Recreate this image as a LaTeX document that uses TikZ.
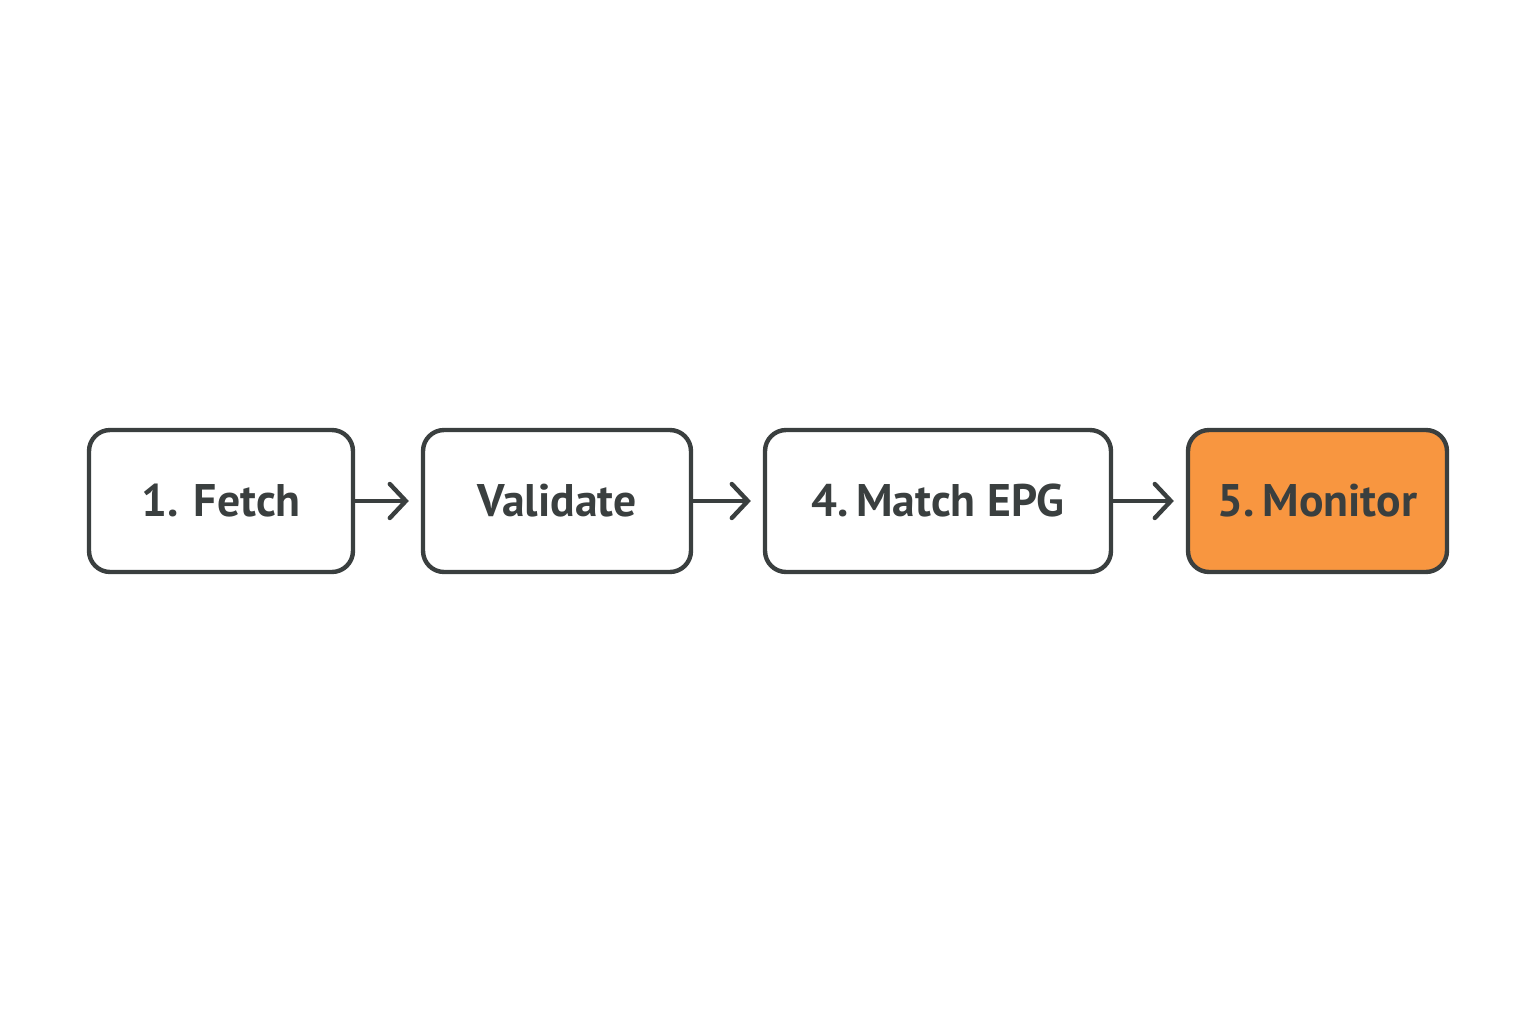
\documentclass[tikz,border=0pt]{standalone}
\usepackage{fontspec}
\setmainfont{PT Sans}
\usetikzlibrary{calc,positioning}
\usetikzlibrary{arrows.meta}
\definecolor{cLine}{HTML}{3A3F3F}
\definecolor{cOrange}{HTML}{F89640}

\begin{document}
\begin{tikzpicture}[x=0.02cm,y=-0.02cm,
    stepbox/.style={draw=cLine,line width=2.5pt,rounded corners=0.42cm,
        minimum height=2.84cm,text=cLine,inner sep=0pt,
        font=\fontsize{26}{30}\selectfont\bfseries},
    flow/.style={draw=cLine,line width=2.5pt,shorten >=0.24cm,
        -{Straight Barb[length=0.32cm,width=0.68cm,line width=2.5pt,line cap=round]}}]
%流程框
\useasboundingbox (0,0) rectangle (1536,1024);
\node[stepbox,minimum width=5.28cm] (nFetch) at (221,501) {1. Fetch};
\node[stepbox,minimum width=5.36cm] (nValidate) at (557,501) {Validate};
\node[stepbox,minimum width=6.92cm] (nMatch) at (938,501) {4.\,Match EPG};
\node[stepbox,minimum width=5.18cm,fill=cOrange] (nMonitor) at (1317.5,501) {5.\,Monitor};

\draw[flow] (nFetch) -- (nValidate);
\draw[flow] (nValidate) -- (nMatch);
\draw[flow] (nMatch) -- (nMonitor);
\end{tikzpicture}
\end{document}
